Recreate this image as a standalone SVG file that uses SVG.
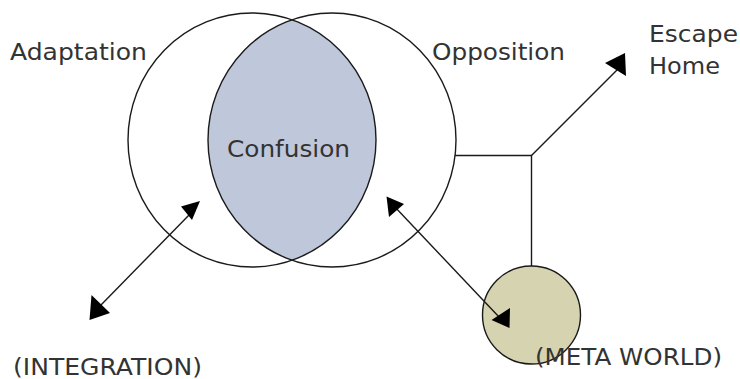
<svg xmlns="http://www.w3.org/2000/svg" width="740" height="379" viewBox="0 0 740 379">
<style>
.ring{fill:none;stroke:#1a1a1a;stroke-width:1.4}
.ln{fill:none;stroke:#1a1a1a;stroke-width:1.4}
.ah{fill:#000;stroke:none}
.t{font-family:"DejaVu Sans","Liberation Sans",sans-serif;font-size:23px;fill:#333}
</style>
<rect width="740" height="379" fill="#fff"/>
<g id="confusion">
<path d="M292,19.8 A124,127 0 0 0 292,260.2 A124,127 0 0 0 292,19.8 Z" fill="#bfc7db"/>
<text class="t" x="227" y="157" textLength="123" lengthAdjust="spacingAndGlyphs">Confusion</text>
</g>
<g id="adaptation">
<ellipse class="ring" cx="252" cy="140" rx="124" ry="127"/>
<text class="t" x="10" y="60" textLength="137" lengthAdjust="spacingAndGlyphs">Adaptation</text>
</g>
<g id="opposition">
<ellipse class="ring" cx="332" cy="140" rx="124" ry="127"/>
<text class="t" x="432" y="60" textLength="133" lengthAdjust="spacingAndGlyphs">Opposition</text>
</g>
<g id="metaworld">
<circle cx="531.5" cy="315" r="49" fill="#d6d3b0" stroke="#1a1a1a" stroke-width="1.4"/>
<text class="t" x="535" y="365" textLength="187" lengthAdjust="spacingAndGlyphs">(META WORLD)</text>
</g>
<g id="escapehome">
<text class="t" x="649" y="42" textLength="89" lengthAdjust="spacingAndGlyphs">Escape</text>
<text class="t" x="649" y="74" textLength="71" lengthAdjust="spacingAndGlyphs">Home</text>
</g>
<g id="integration">
<text class="t" x="13" y="375" textLength="189" lengthAdjust="spacingAndGlyphs">(INTEGRATION)</text>
</g>
<g id="connectors">
<polyline class="ln" points="455,155.5 531.5,155.5 531.5,266"/>
<line class="ln" x1="531.5" y1="155.5" x2="617" y2="70"/>
<polygon class="ah" points="605,63 625,53 626,76"/>
<line class="ln" x1="191" y1="213" x2="100" y2="306"/>
<polygon class="ah" points="181,206.5 200,201 192,220"/>
<polygon class="ah" points="91.5,295 89.5,320 110,313"/>
<line class="ln" x1="394" y1="206" x2="500" y2="318"/>
<polygon class="ah" points="386.5,196.5 404,204 389,217"/>
<polygon class="ah" points="510,308 491.5,320 509.5,328"/>
</g>
</svg>
